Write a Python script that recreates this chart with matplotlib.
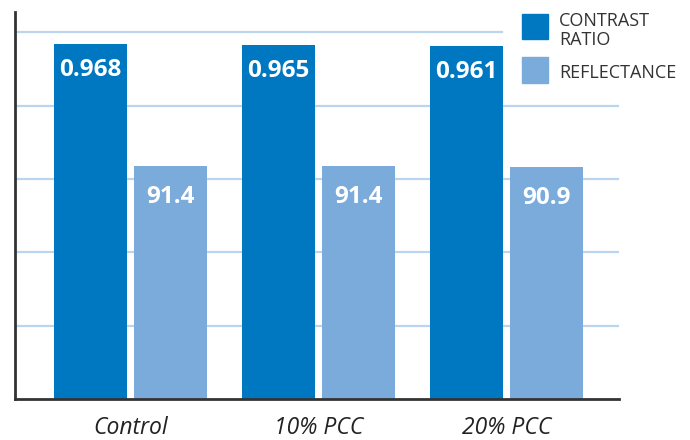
import numpy as np
import matplotlib
matplotlib.use("Agg")
import matplotlib.pyplot as plt
from matplotlib.patches import Rectangle

plt.rcParams["font.family"] = ["Open Sans", "DejaVu Sans"]

groups = ["Control", "10% PCC", "20% PCC"]
contrast_ratio = [0.968, 0.965, 0.961]
reflectance = [91.4, 91.4, 90.9]

dark_blue = "#0077C1"
light_blue = "#7AABDB"
grid_color = "#BCD5EE"
axis_color = "#333333"

fig = plt.figure(figsize=(6.9, 4.4), dpi=100)
ax = fig.add_axes([15 / 690, 41 / 440, 604 / 690, 387 / 440])
ax2 = ax.twinx()

x = np.arange(len(groups))
width = 0.388
offset = 0.213

# contrast ratio on the main axis, reflectance on the twin
bars1 = ax.bar(x - offset, contrast_ratio, width, color=dark_blue, zorder=2)
bars2 = ax2.bar(x + offset, reflectance, width, color=light_blue, zorder=2)

ax.set_xlim(-0.614, 2.598)
ax.set_ylim(0, 1.055)
ax2.set_ylim(0, 151.6)

# gridlines (top one stops before the legend)
for g in [0.2, 0.4, 0.6, 0.8, 1.0]:
    xmax = 0.806 if g == 1.0 else 1.0
    ax.axhline(g, xmin=0, xmax=xmax, color=grid_color, lw=1.6, zorder=0.5)

for a in (ax, ax2):
    for s in a.spines.values():
        s.set_visible(False)
    a.tick_params(left=False, right=False, labelleft=False, labelright=False, bottom=False)

for side in ("left", "bottom"):
    ax2.spines[side].set_visible(True)
    ax2.spines[side].set_color(axis_color)
    ax2.spines[side].set_linewidth(2)

ax.set_xticks(x)
ax.set_xticklabels(groups, fontsize=16.5, style="italic", color="#222222")
ax.tick_params(axis="x", pad=9)

for b, v in zip(bars1, contrast_ratio):
    ax.annotate(f"{v:.3f}", (b.get_x() + b.get_width() / 2, v), xytext=(0, -18.7),
                textcoords="offset points", ha="center", va="center",
                color="white", fontsize=17.5, fontweight="bold", zorder=3)
for b, v in zip(bars2, reflectance):
    ax2.annotate(f"{v:.1f}", (b.get_x() + b.get_width() / 2, v), xytext=(0, -22.3),
                 textcoords="offset points", ha="center", va="center",
                 color="white", fontsize=17.5, fontweight="bold", zorder=3)

# legend drawn by hand
W, H = 690, 440
fig.add_artist(Rectangle((522 / W, 1 - 39 / H), 26 / W, 25 / H, transform=fig.transFigure, color=dark_blue))
fig.add_artist(Rectangle((522 / W, 1 - 83 / H), 26 / W, 26 / H, transform=fig.transFigure, color=light_blue))
fig.text(559 / W, 1 - 21.5 / H, "CONTRAST", fontsize=13, color=axis_color, va="center", ha="left")
fig.text(559 / W, 1 - 40 / H, "RATIO", fontsize=13, color=axis_color, va="center", ha="left")
fig.text(559 / W, 1 - 73.5 / H, "REFLECTANCE", fontsize=13, color=axis_color, va="center", ha="left")

plt.savefig("out.png", dpi=100)
